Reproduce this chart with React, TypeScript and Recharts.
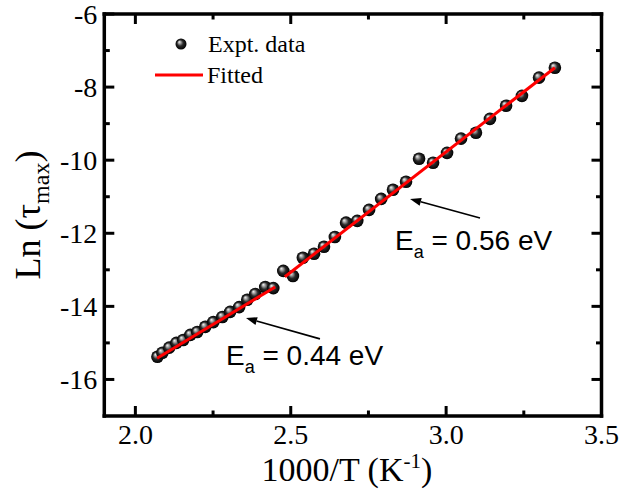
import React from 'react';
import { ScatterChart, Scatter, XAxis, YAxis, Legend, ReferenceLine, ReferenceDot } from 'recharts';

// Experimental data: 1000/T (K^-1) and Ln(tau_max)
const exptX = [
  2.071, 2.087, 2.109, 2.132, 2.154, 2.177, 2.199, 2.225, 2.251, 2.280, 2.305, 2.334, 2.360, 2.386, 2.418, 2.444,
  2.476, 2.507, 2.539, 2.575, 2.607, 2.642, 2.678, 2.714, 2.752, 2.791, 2.829, 2.871, 2.913, 2.958, 3.003, 3.048,
  3.096, 3.141, 3.193, 3.244, 3.299, 3.350,
];
const exptY = [
  -15.38, -15.27, -15.13, -15.0, -14.92, -14.78, -14.7, -14.56, -14.43, -14.29, -14.15, -14.02, -13.82, -13.66, -13.47, -13.5,
  -13.03, -13.17, -12.67, -12.56, -12.37, -12.1, -11.71, -11.66, -11.36, -11.06, -10.81, -10.59, -9.96, -10.07, -9.8, -9.41,
  -9.25, -8.87, -8.51, -8.24, -7.74, -7.47,
];

// Fitted lines
const fitLowX = [2.07, 2.45];
const fitLowY = [-15.42, -13.47];
const fitHighX = [2.481, 3.35];
const fitHighY = [-13.19, -7.47];

// Axis ticks
const xDomain = [1.9, 3.5];
const yDomain = [-17, -6];
const xTicks = [2.0, 2.25, 2.5, 2.75, 3.0, 3.25, 3.5];
const xMajor = [2.0, 2.5, 3.0, 3.5];
const yTicks = [-16, -15, -14, -13, -12, -11, -10, -9, -8, -7, -6];
const yMajor = [-16, -14, -12, -10, -8, -6];

// Annotations
const annoLabels = ['0.56 eV', '0.44 eV'];
const annoTextX = [2.8355, 2.2916];
const annoTextY = [-12.45, -15.6];
const arrowFromX = [3.109, 2.594];
const arrowFromY = [-11.58, -14.89];
const arrowToX = [2.884, 2.356];
const arrowToY = [-11.06, -14.32];

const exptData = exptX.map((x, i) => ({ x, y: exptY[i] }));
const fitLowData = fitLowX.map((x, i) => ({ x, y: fitLowY[i] }));
const fitHighData = fitHighX.map((x, i) => ({ x, y: fitHighY[i] }));

const SERIF = "'Liberation Serif', 'Times New Roman', serif";
const SANS = "'Liberation Sans', Arial, sans-serif";
const TICK_FS = 28;

const GradDefs = () => (
  <defs>
    <radialGradient id="sphereGrad" cx="0.5" cy="0.5" r="0.5" fx="0.33" fy="0.3">
      <stop offset="0" stopColor="#f4f4f4" />
      <stop offset="0.22" stopColor="#a8a8a8" />
      <stop offset="0.55" stopColor="#2a2a2a" />
      <stop offset="1" stopColor="#000" />
    </radialGradient>
  </defs>
);

const Sphere = (props: any) => {
  const { cx, cy } = props;
  if (cx == null || cy == null) return <g />;
  return (
    <g>
      <GradDefs />
      <circle cx={cx} cy={cy} r={6.3} fill="url(#sphereGrad)" />
    </g>
  );
};

const NoShape = () => <g />;

const XTickBottom = (props: any) => {
  const { x, y, payload } = props;
  const major = xMajor.some((m) => Math.abs(m - payload.value) < 1e-6);
  return (
    <g>
      <line x1={x} x2={x} y1={y} y2={y - (major ? 10 : 5.5)} stroke="#000" strokeWidth={3} />
      {major && (
        <text x={x} y={y + 28} textAnchor="middle" fontFamily={SERIF} fontSize={TICK_FS} fill="#000">
          {payload.value.toFixed(1)}
        </text>
      )}
    </g>
  );
};

const XTickTop = (props: any) => {
  const { x, y, payload } = props;
  const major = xMajor.some((m) => Math.abs(m - payload.value) < 1e-6);
  return <line x1={x} x2={x} y1={y} y2={y + (major ? 10 : 5.5)} stroke="#000" strokeWidth={3} />;
};

const YTickLeft = (props: any) => {
  const { x, y, payload } = props;
  const major = yMajor.includes(payload.value);
  return (
    <g>
      <line x1={x} x2={x + (major ? 10 : 5.5)} y1={y} y2={y} stroke="#000" strokeWidth={3} />
      {major && (
        <text x={x - 7} y={y + 9.5} textAnchor="end" fontFamily={SERIF} fontSize={TICK_FS} fill="#000">
          {String(payload.value)}
        </text>
      )}
    </g>
  );
};

const YTickRight = (props: any) => {
  const { x, y, payload } = props;
  const major = yMajor.includes(payload.value);
  return <line x1={x} x2={x - (major ? 10 : 5.5)} y1={y} y2={y} stroke="#000" strokeWidth={3} />;
};

const XTitle = (props: any) => {
  const vb = props.viewBox || {};
  const cx = vb.x + vb.width / 2 - 6;
  return (
    <text x={cx} y={vb.y + 65} textAnchor="middle" fontFamily={SERIF} fontSize={34} fill="#000">
      1000/T (K
      <tspan dy={-13} fontSize={21}>-1</tspan>
      <tspan dy={13}>)</tspan>
    </text>
  );
};

const YTitle = (props: any) => {
  const vb = props.viewBox || {};
  const cy = vb.y + vb.height / 2;
  const tx = 40;
  return (
    <text x={tx} y={cy} transform={`rotate(-90, ${tx}, ${cy})`} textAnchor="middle" fontFamily={SERIF} fontSize={36} fill="#000">
      Ln (τ
      <tspan dy={9} fontSize={24}>max</tspan>
      <tspan dy={-9}>)</tspan>
    </text>
  );
};

const LegendContent = () => (
  <svg width={220} height={66}>
    <GradDefs />
    <circle cx={31} cy={16} r={5.5} fill="url(#sphereGrad)" />
    <text x={58} y={24} fontFamily={SERIF} fontSize={24} fill="#000">Expt. data</text>
    <line x1={5} x2={53} y1={47} y2={47} stroke="#ff0000" strokeWidth={3} />
    <text x={57} y={55} fontFamily={SERIF} fontSize={24} fill="#000">Fitted</text>
  </svg>
);

const makeLabelShape = (label: string) => (p: any) => (
  <text x={p.cx} y={p.cy} fontFamily={SANS} fontSize={28} fill="#000">
    E<tspan dy={8} fontSize={18}>a</tspan>
    <tspan dy={-8}>{' = ' + label}</tspan>
  </text>
);

const ArrowShape = (p: any) => {
  const { x1, y1, x2, y2 } = p;
  if ([x1, y1, x2, y2].some((v) => v == null || isNaN(v))) return <g />;
  const dx = x2 - x1;
  const dy = y2 - y1;
  const len = Math.sqrt(dx * dx + dy * dy);
  const ux = dx / len;
  const uy = dy / len;
  const hl = 11;
  const hw = 4;
  const bx = x2 - ux * hl;
  const by = y2 - uy * hl;
  const pts = `${x2},${y2} ${bx - uy * hw},${by + ux * hw} ${bx + uy * hw},${by - ux * hw}`;
  return (
    <g>
      <line x1={x1} y1={y1} x2={bx} y2={by} stroke="#000" strokeWidth={1.6} />
      <polygon points={pts} fill="#000" />
    </g>
  );
};

const frameLine = { stroke: '#000', strokeWidth: 3.5, strokeLinecap: 'square' as const };

export default function App() {
  return (
    <div style={{ position: 'absolute', left: 0, top: 0, width: 620, height: 489, background: '#fff' }}>
      <ScatterChart width={620} height={489} margin={{ top: 13, right: 17.5, bottom: 0, left: 0 }}>
        <XAxis
          xAxisId="b"
          type="number"
          dataKey="x"
          domain={xDomain}
          ticks={xTicks}
          interval={0}
          orientation="bottom"
          height={73}
          tickSize={0}
          tickMargin={0}
          tickLine={false}
          axisLine={frameLine}
          tick={<XTickBottom />}
          allowDataOverflow
          label={<XTitle />}
        />
        <XAxis
          xAxisId="t"
          type="number"
          dataKey="x"
          domain={xDomain}
          ticks={xTicks}
          interval={0}
          orientation="top"
          height={1}
          tickSize={0}
          tickMargin={0}
          tickLine={false}
          axisLine={frameLine}
          tick={<XTickTop />}
          allowDataOverflow
        />
        <YAxis
          yAxisId="l"
          type="number"
          dataKey="y"
          domain={yDomain}
          ticks={yTicks}
          interval={0}
          orientation="left"
          width={104.3}
          tickSize={0}
          tickMargin={0}
          tickLine={false}
          axisLine={frameLine}
          tick={<YTickLeft />}
          allowDataOverflow
          label={<YTitle />}
        />
        <YAxis
          yAxisId="r"
          type="number"
          dataKey="y"
          domain={yDomain}
          ticks={yTicks}
          interval={0}
          orientation="right"
          width={1}
          tickSize={0}
          tickMargin={0}
          tickLine={false}
          axisLine={frameLine}
          tick={<YTickRight />}
          allowDataOverflow
        />
        <Legend
          layout="vertical"
          align="center"
          verticalAlign="middle"
          wrapperStyle={{ left: 150, top: 28, width: 220, height: 66 }}
          content={<LegendContent />}
        />
        <Scatter
          name="Expt. data"
          data={exptData}
          xAxisId="b"
          yAxisId="l"
          shape={<Sphere />}
          isAnimationActive={false}
        />
        <Scatter
          name="Fitted"
          data={fitLowData}
          xAxisId="b"
          yAxisId="l"
          line={{ stroke: '#ff0000', strokeWidth: 3 }}
          shape={<NoShape />}
          isAnimationActive={false}
        />
        <Scatter
          name="Fitted high"
          data={fitHighData}
          xAxisId="b"
          yAxisId="l"
          line={{ stroke: '#ff0000', strokeWidth: 3 }}
          shape={<NoShape />}
          legendType="none"
          isAnimationActive={false}
        />
        {annoLabels.map((lab, i) => (
          <ReferenceLine
            key={'arr' + i}
            xAxisId="b"
            yAxisId="l"
            segment={[
              { x: arrowFromX[i], y: arrowFromY[i] },
              { x: arrowToX[i], y: arrowToY[i] },
            ]}
            shape={ArrowShape}
            ifOverflow="visible"
          />
        ))}
        {annoLabels.map((lab, i) => (
          <ReferenceDot
            key={'lab' + i}
            xAxisId="b"
            yAxisId="l"
            x={annoTextX[i]}
            y={annoTextY[i]}
            r={0}
            shape={makeLabelShape(lab)}
            ifOverflow="visible"
          />
        ))}
      </ScatterChart>
    </div>
  );
}
